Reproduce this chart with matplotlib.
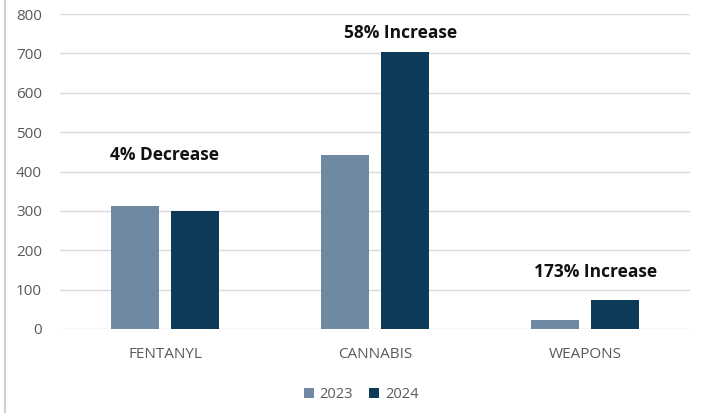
import matplotlib
matplotlib.use("Agg")
import matplotlib.pyplot as plt
import numpy as np
from matplotlib.lines import Line2D

categories = ['FENTANYL', 'CANNABIS', 'WEAPONS']
counts_2023 = [312, 443, 24]
counts_2024 = [300, 703, 73]
changes = ['4% Decrease', '58% Increase', '173% Increase']
# y position of each change label, in data units
label_y = [442, 751, 145]
label_dx = [0.0, 0.12, 0.05]

plt.rcParams['font.family'] = ['Open Sans', 'DejaVu Sans']

x = np.arange(len(categories))  # the category locations
width = 0.225  # the width of the bars

fig = plt.figure(figsize=(7.03, 4.13), dpi=100)
ax = fig.add_axes([60 / 703, 1 - 329 / 413, 630 / 703, 315 / 413])

rects1 = ax.bar(x - 0.143, counts_2023, width, label='2023', color='#7089a2', zorder=3)
rects2 = ax.bar(x + 0.143, counts_2024, width, label='2024', color='#0e3a5a', zorder=3)

ax.set_xlim(-0.5, 2.5)
ax.set_ylim(0, 800)
ax.set_yticks(np.arange(0, 801, 100))
ax.set_xticks(x)
ax.set_xticklabels(categories)
ax.grid(axis='y', color='#d9d9d9', linewidth=1, zorder=0)
for s in ax.spines.values():
    s.set_visible(False)
ax.tick_params(length=0, colors='#595959', labelsize=11)
ax.tick_params(axis='x', pad=13)
ax.tick_params(axis='y', pad=13)

for i, txt in enumerate(changes):
    ax.text(x[i] + label_dx[i], label_y[i], txt, ha='center', va='center',
            fontsize=12.5, fontweight='bold', color='#111111')

ax.legend(loc='upper center', bbox_to_anchor=(0.478, -0.143), ncol=2, frameon=False,
          handlelength=0.7, handleheight=0.7, handletextpad=0.4, columnspacing=1.1,
          labelcolor='#595959', fontsize=10.5)

fig.add_artist(Line2D([5 / 703, 5 / 703], [0, 1], color='#d0d0d0', linewidth=1.5))

fig.savefig("out.png", dpi=100)
